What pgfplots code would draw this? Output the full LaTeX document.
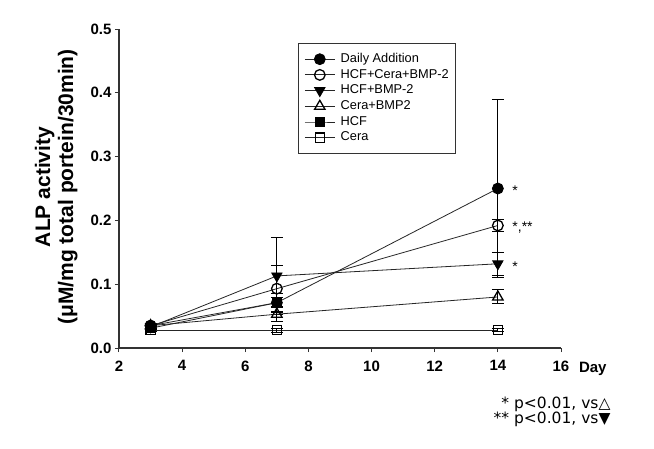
\documentclass[border=0pt]{standalone}
\usepackage{fontspec}
\setmainfont{Liberation Sans}
\newfontfamily\symfont{DejaVu Sans}
\usepackage{pgfplots}
\pgfplotsset{compat=1.18}
\begin{document}
\begin{tikzpicture}[x=1pt,y=1pt]
\path[use as bounding box, fill=white] (0,0) rectangle (654,448);
\begin{axis}[
  at={(119pt,100pt)}, anchor=south west,
  scale only axis, width=442pt, height=319pt,
  xmin=2, xmax=16, ymin=0, ymax=0.5,
  xtick={2,4,6,8,10,12,14,16},
  ytick={0,0.1,0.2,0.3,0.4,0.5},
  axis x line*=bottom, axis y line*=left,
  axis line style={line width=1.6pt, black!80},
  tick align=outside, major tick length=4pt,
  tick style={line width=1pt, black!80},
  /pgf/number format/assume math mode=true,
  ticklabel style={font=\fontsize{15}{17}\selectfont\bfseries},
  xticklabel style={yshift=-5pt},
  yticklabel style={/pgf/number format/.cd, fixed, fixed zerofill, precision=1},
  xlabel={Day},
  xlabel style={at={(axis description cs:1.072,-0.064)}, anchor=center, font=\fontsize{15}{17}\selectfont\bfseries},
  ylabel={ALP activity\\(μM/mg total portein/30min)},
  ylabel style={at={(axis description cs:-0.142,0.505)}, anchor=center, align=center, font=\fontsize{21}{23}\selectfont\bfseries},
  legend style={at={(0.405,0.956)}, anchor=north west, draw=black!80, line width=0.8pt,
    font=\fontsize{12.8}{14}\selectfont, row sep=2.2pt, inner xsep=6pt, inner ysep=9pt,
    nodes={text height=9.5pt, text depth=3pt, inner sep=0.5pt},
    /tikz/every odd column/.append style={column sep=5pt}},
  legend cell align=left,
  legend image code/.code={\draw[mark repeat=2,mark phase=2] plot coordinates {(0pt,0pt)(15pt,0pt)(30pt,0pt)};},
  every axis plot/.append style={black!85, line width=0.8pt},
  error bars/error bar style={line width=1pt, black},
  error bars/error mark options={rotate=90, mark size=6pt, line width=1pt, black},
  clip=false,
]
% Daily Addition
\addplot[black!85, mark=*, mark size=5.5pt, mark options={fill=black, draw=black}]
  plot [error bars/.cd, y dir=both, y explicit] coordinates {
  (3,0.035) +- (0,0.003)
  (7,0.071) +- (0,0.015)
  (14,0.250) +- (0,0.140)
};
\addlegendentry{Daily Addition}
% HCF+Cera+BMP-2
\addplot[black!85, mark=o, mark size=5.3pt, mark options={fill=white, draw=black, line width=1.3pt}]
  plot [error bars/.cd, y dir=both, y explicit] coordinates {
  (3,0.035) +- (0,0.002)
  (7,0.093) +- (0,0.036)
  (14,0.192) +- (0,0.010)
};
\addlegendentry{HCF+Cera+BMP-2}
% HCF+BMP-2
\addplot[black!85, mark=triangle*, mark size=6pt, mark options={fill=black, draw=black, rotate=180}]
  plot [error bars/.cd, y dir=both, y explicit] coordinates {
  (3,0.033) +- (0,0.002)
  (7,0.113) +- (0,0.060)
  (14,0.132) +- (0,0.018)
};
\addlegendentry{HCF+BMP-2}
% Cera+BMP2
\addplot[black!85, mark=triangle, mark size=6pt, mark options={fill=white, draw=black, line width=1.3pt}]
  plot [error bars/.cd, y dir=both, y explicit] coordinates {
  (3,0.035) +- (0,0.002)
  (7,0.053) +- (0,0.012)
  (14,0.080) +- (0,0.011)
};
\addlegendentry{Cera+BMP2}
% HCF
\addplot[black!85, mark=square*, mark size=4.3pt, mark options={fill=black, draw=black}]
  plot [error bars/.cd, y dir=both, y explicit] coordinates {
  (3,0.031) +- (0,0.002)
  (7,0.071) +- (0,0.008)
};
\addlegendentry{HCF}
% Cera
\addplot[black!85, mark=square, mark size=4.6pt, mark options={fill=white, draw=black, line width=1.3pt}]
  plot [error bars/.cd, y dir=both, y explicit] coordinates {
  (3,0.028) +- (0,0.002)
  (7,0.028) +- (0,0.003)
  (14,0.028) +- (0,0.002)
};
\addlegendentry{Cera}
\node[anchor=west, font=\fontsize{14}{14}\selectfont] at (axis cs:14.35,0.246) {*};
\node[anchor=west, font=\fontsize{14}{14}\selectfont] at (axis cs:14.35,0.188) {*,**};
\node[anchor=west, font=\fontsize{14}{14}\selectfont] at (axis cs:14.35,0.128) {*};
\end{axis}
\node[anchor=east, font=\symfont\fontsize{15.5}{17}\selectfont] at (614,44) {* p<0.01, vs△};
\node[anchor=east, font=\symfont\fontsize{15.5}{17}\selectfont] at (614,29) {** p<0.01, vs▼};
\end{tikzpicture}
\end{document}
